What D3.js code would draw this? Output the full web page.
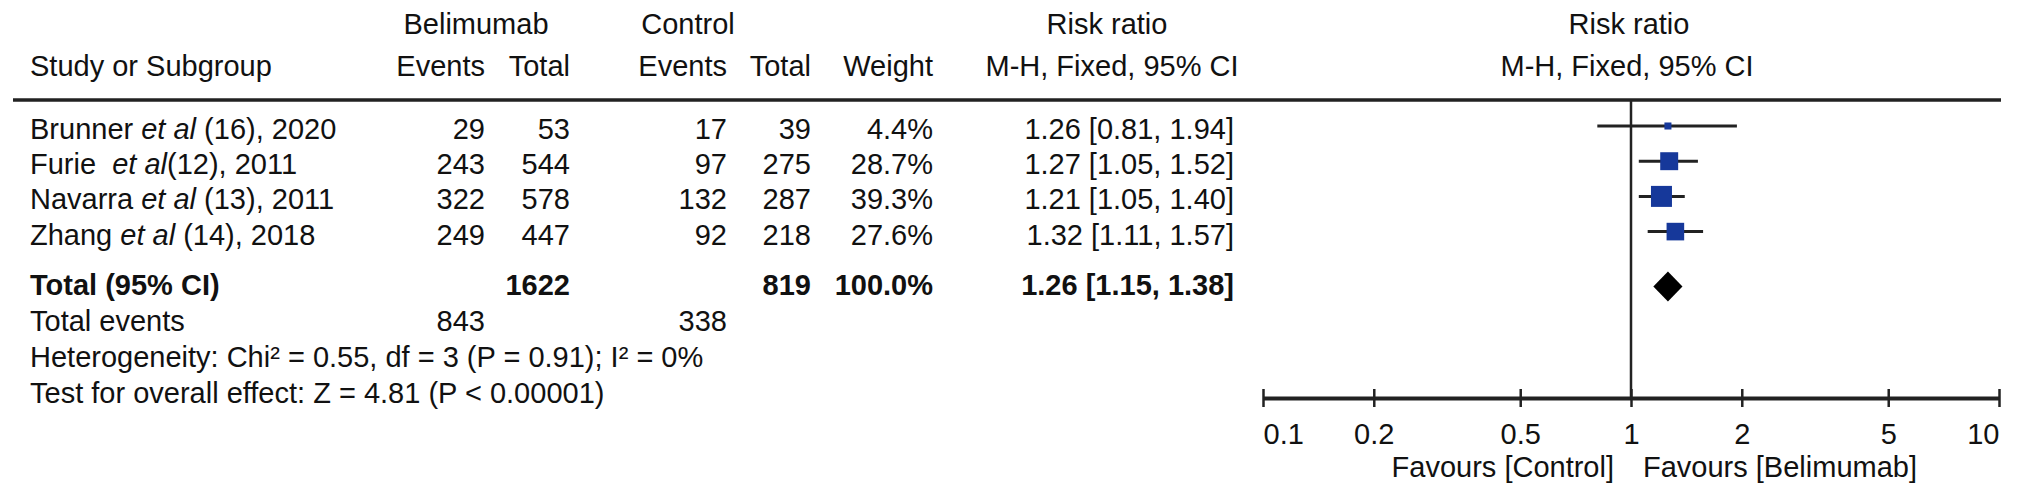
<!DOCTYPE html>
<html><head><meta charset="utf-8">
<script src="https://cdn.jsdelivr.net/npm/d3@7"></script>
<style>
body{margin:0;background:#fff;}
text{font-family:"Liberation Sans",Arial,Helvetica,sans-serif;fill:#111;white-space:pre;}
</style>
</head><body>
<svg id="chart" width="2032" height="498"></svg>
<script>
// ---- data ----
const studyNames = ["Brunner ", "Furie  ", "Navarra ", "Zhang "];
const studySuffix = [" (16), 2020", "(12), 2011", " (13), 2011", " (14), 2018"];
const belEvents = [29, 243, 322, 249];
const belTotal = [53, 544, 578, 447];
const ctlEvents = [17, 97, 132, 92];
const ctlTotal = [39, 275, 287, 218];
const weights = [4.4, 28.7, 39.3, 27.6];
const riskRatio = [1.26, 1.27, 1.21, 1.32];
const ciLow = [0.81, 1.05, 1.05, 1.11];
const ciHigh = [1.94, 1.52, 1.40, 1.57];
const totalBel = 1622, totalCtl = 819, totalWeight = 100.0;
const totalRR = 1.26, totalLow = 1.15, totalHigh = 1.38;
const totalEventsBel = 843, totalEventsCtl = 338;
const heterogeneityText = "Heterogeneity: Chi\u00b2 = 0.55, df = 3 (P = 0.91); I\u00b2 = 0%";
const overallText = "Test for overall effect: Z = 4.81 (P < 0.00001)";
const axisTicks = [0.1, 0.2, 0.5, 1, 2, 5, 10];
const favourLeft = "Favours [Control]", favourRight = "Favours [Belimumab]";

// ---- layout ----
const svg = d3.select("#chart");
const FS = 29;
const x = d3.scaleLog().domain([0.1, 10]).range([1263, 1999]);
const rowY = d3.scaleLinear().domain([0, 1]).range([139, 174.2]);
const sumY = d3.scaleLinear().domain([0, 3]).range([294.5, 402.5]);
const size = d3.scaleSqrt().domain([0, 39.3]).range([0, 21]);
const col = {belE: 485, belT: 570, ctlE: 727, ctlT: 811, wt: 933, ci: 1234, label: 30};
const markerOff = -13;
const axisY = 398;
const ruleY = 100;
const blue = "#16389a", ink = "#222";
const fmt2 = d3.format(".2f"), fmt1 = d3.format(".1f");
const ciStr = (r, l, h) => `${fmt2(r)} [${fmt2(l)}, ${fmt2(h)}]`;

function txt(xp, yp, s, anchor = "start", weight = "normal") {
  return svg.append("text").attr("x", xp).attr("y", yp).attr("text-anchor", anchor)
    .attr("font-size", FS).attr("font-weight", weight).text(s);
}

// headers
txt(476, 34, "Belimumab", "middle");
txt(688, 34, "Control", "middle");
txt(1107, 34, "Risk ratio", "middle");
txt(x(1) - 2, 34, "Risk ratio", "middle");
txt(col.label, 76, "Study or Subgroup");
txt(col.belE, 76, "Events", "end");
txt(col.belT, 76, "Total", "end");
txt(col.ctlE, 76, "Events", "end");
txt(col.ctlT, 76, "Total", "end");
txt(col.wt, 76, "Weight", "end");
txt(1112, 76, "M-H, Fixed, 95% CI", "middle");
txt(x(1) - 4, 76, "M-H, Fixed, 95% CI", "middle");

// header rule
svg.append("line").attr("x1", 13).attr("x2", 2001).attr("y1", ruleY).attr("y2", ruleY)
  .attr("stroke", ink).attr("stroke-width", 3.5);

// study rows
studyNames.forEach((n, i) => {
  const t = svg.append("text").attr("x", col.label).attr("y", rowY(i)).attr("font-size", FS);
  t.append("tspan").text(n);
  t.append("tspan").attr("font-style", "italic").text("et al");
  t.append("tspan").text(studySuffix[i]);
  txt(col.belE, rowY(i), String(belEvents[i]), "end");
  txt(col.belT, rowY(i), String(belTotal[i]), "end");
  txt(col.ctlE, rowY(i), String(ctlEvents[i]), "end");
  txt(col.ctlT, rowY(i), String(ctlTotal[i]), "end");
  txt(col.wt, rowY(i), fmt1(weights[i]) + "%", "end");
  txt(col.ci, rowY(i), ciStr(riskRatio[i], ciLow[i], ciHigh[i]), "end");
});

// total rows
txt(col.label, sumY(0), "Total (95% CI)", "start", "bold");
txt(col.belT, sumY(0), String(totalBel), "end", "bold");
txt(col.ctlT, sumY(0), String(totalCtl), "end", "bold");
txt(col.wt, sumY(0), fmt1(totalWeight) + "%", "end", "bold");
txt(col.ci, sumY(0), ciStr(totalRR, totalLow, totalHigh), "end", "bold");
txt(col.label, sumY(1), "Total events");
txt(col.belE, sumY(1), String(totalEventsBel), "end");
txt(col.ctlE, sumY(1), String(totalEventsCtl), "end");
txt(col.label, sumY(2), heterogeneityText);
txt(col.label, sumY(3), overallText);

// forest plot: null line
svg.append("line").attr("x1", x(1)).attr("x2", x(1)).attr("y1", ruleY).attr("y2", axisY)
  .attr("stroke", ink).attr("stroke-width", 2.5);

// CIs and squares
const g = svg.append("g");
g.selectAll("line.ci").data(riskRatio).join("line").attr("class", "ci")
  .attr("x1", (d, i) => x(ciLow[i])).attr("x2", (d, i) => x(ciHigh[i]))
  .attr("y1", (d, i) => rowY(i) + markerOff).attr("y2", (d, i) => rowY(i) + markerOff)
  .attr("stroke", ink).attr("stroke-width", 3);
g.selectAll("rect.sq").data(riskRatio).join("rect").attr("class", "sq")
  .attr("x", (d, i) => x(d) - size(weights[i]) / 2)
  .attr("y", (d, i) => rowY(i) + markerOff - size(weights[i]) / 2)
  .attr("width", (d, i) => size(weights[i])).attr("height", (d, i) => size(weights[i]))
  .attr("fill", blue);

// diamond
const dy = sumY(0) - 8;
svg.append("path")
  .attr("d", `M${x(totalLow)},${dy} L${x(totalRR)},${dy - 15} L${x(totalHigh)},${dy} L${x(totalRR)},${dy + 15} Z`)
  .attr("fill", "#000");

// axis
const axis = d3.axisBottom(x).tickValues(axisTicks).tickFormat(d => String(d)).tickSizeOuter(0);
const ag = svg.append("g").attr("transform", `translate(0,${axisY})`).call(axis);
ag.select(".domain").attr("stroke", ink).attr("stroke-width", 4);
ag.selectAll(".tick line").attr("y1", -9).attr("y2", 9).attr("stroke", ink).attr("stroke-width", 2.5);
ag.selectAll(".tick text").attr("y", 46).attr("dy", null).attr("font-size", FS)
  .attr("font-family", "Liberation Sans, Arial, sans-serif").attr("fill", "#111")
  .attr("text-anchor", (d, i) => i === 0 ? "start" : (i === axisTicks.length - 1 ? "end" : "middle"));

txt(x(1) - 17, 477, favourLeft, "end");
txt(x(1) + 12, 477, favourRight, "start");
</script>
</body></html>
